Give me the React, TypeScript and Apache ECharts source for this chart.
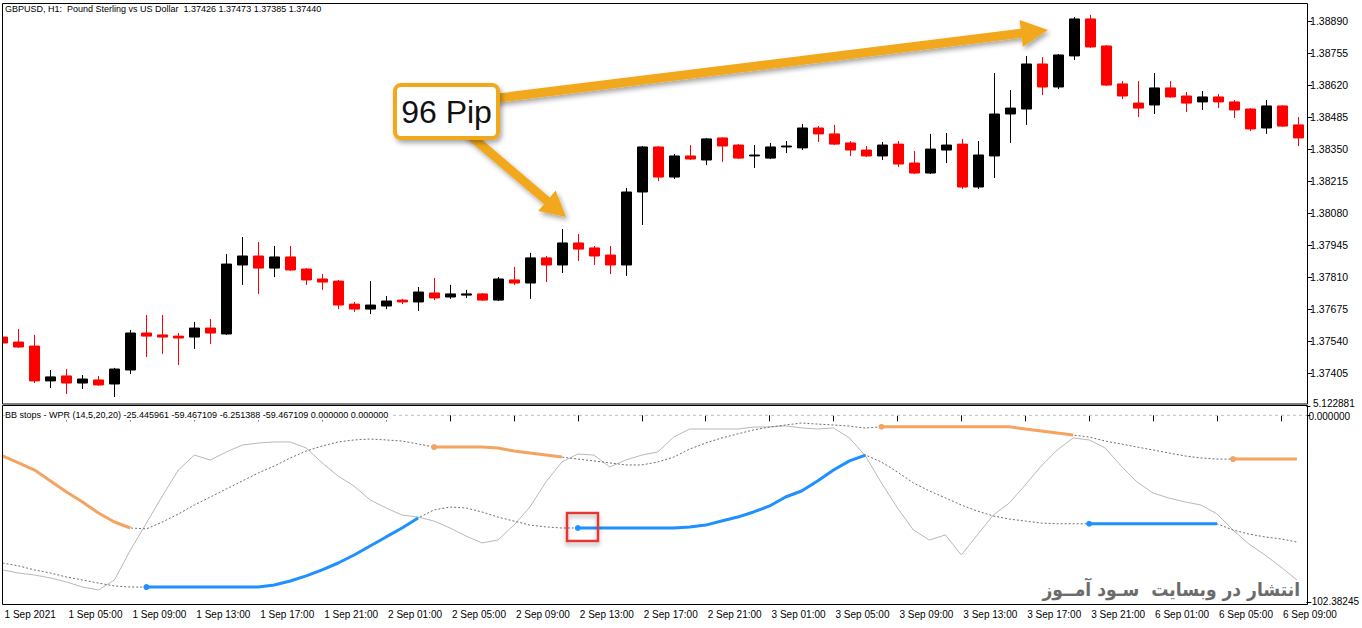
import React, { useEffect, useRef } from "react";
import * as echarts from "echarts";

// ---------- categories (H1 bars) ----------
const sessionDays: [string, number, number][] = [
  ["1 Sep", 1, 23],
  ["2 Sep", 0, 23],
  ["3 Sep", 0, 23],
  ["6 Sep", 0, 10],
];
const categories: string[] = [];
sessionDays.forEach(([d, a, b]) => {
  for (let h = a; h <= b; h++) categories.push(`${d} ${String(h).padStart(2, "0")}:00`);
});

const xTickLabels = [
  "1 Sep 2021", "1 Sep 05:00", "1 Sep 09:00", "1 Sep 13:00", "1 Sep 17:00", "1 Sep 21:00",
  "2 Sep 01:00", "2 Sep 05:00", "2 Sep 09:00", "2 Sep 13:00", "2 Sep 17:00", "2 Sep 21:00",
  "3 Sep 01:00", "3 Sep 05:00", "3 Sep 09:00", "3 Sep 13:00", "3 Sep 17:00", "3 Sep 21:00",
  "6 Sep 01:00", "6 Sep 05:00", "6 Sep 09:00",
];

// ---------- OHLC ----------
const opens = [
  1.37557, 1.37536, 1.37519, 1.37372, 1.37393, 1.37363, 1.37376, 1.37359, 1.37418, 1.37574,
  1.37566, 1.37561, 1.37557, 1.37595, 1.37570, 1.37861, 1.37899, 1.37848, 1.37895, 1.37844,
  1.37802, 1.37793, 1.37696, 1.37675, 1.37688, 1.37713, 1.37705, 1.37743, 1.37726, 1.37734,
  1.37739, 1.37713, 1.37798, 1.37785, 1.37891, 1.37861, 1.37954, 1.37933, 1.37903, 1.37861,
  1.38169, 1.38359, 1.38232, 1.38321, 1.38304, 1.38397, 1.38367, 1.38321, 1.38312, 1.38359,
  1.38355, 1.38439, 1.38414, 1.38376, 1.38346, 1.38321, 1.38371, 1.38291, 1.38249, 1.38346,
  1.38371, 1.38190, 1.38321, 1.38498, 1.38519, 1.38709, 1.38612, 1.38743, 1.38899, 1.38785,
  1.38625, 1.38544, 1.38536, 1.38608, 1.38574, 1.38549, 1.38570, 1.38549, 1.38519, 1.38439,
  1.38532, 1.38452,
];
const closes = [
  1.37532, 1.37515, 1.37372, 1.37389, 1.37363, 1.37380, 1.37355, 1.37422, 1.37574, 1.37561,
  1.37557, 1.37553, 1.37595, 1.37574, 1.37865, 1.37899, 1.37848, 1.37895, 1.37840, 1.37798,
  1.37789, 1.37692, 1.37675, 1.37692, 1.37709, 1.37705, 1.37747, 1.37722, 1.37739, 1.37739,
  1.37713, 1.37802, 1.37785, 1.37891, 1.37861, 1.37954, 1.37928, 1.37899, 1.37861, 1.38169,
  1.38359, 1.38232, 1.38321, 1.38308, 1.38393, 1.38363, 1.38312, 1.38325, 1.38359, 1.38363,
  1.38439, 1.38414, 1.38371, 1.38346, 1.38321, 1.38367, 1.38287, 1.38249, 1.38350, 1.38367,
  1.38190, 1.38325, 1.38498, 1.38523, 1.38709, 1.38612, 1.38747, 1.38899, 1.38781, 1.38620,
  1.38574, 1.38523, 1.38608, 1.38570, 1.38544, 1.38570, 1.38549, 1.38515, 1.38435, 1.38532,
  1.38447, 1.38397,
];
const lows = [
  1.37528, 1.37511, 1.37363, 1.37342, 1.37317, 1.37338, 1.37351, 1.37304, 1.37401, 1.37473,
  1.37486, 1.37439, 1.37507, 1.37528, 1.37566, 1.37777, 1.37739, 1.37810, 1.37836, 1.37777,
  1.37756, 1.37675, 1.37663, 1.37654, 1.37675, 1.37696, 1.37667, 1.37713, 1.37718, 1.37722,
  1.37709, 1.37709, 1.37777, 1.37718, 1.37789, 1.37827, 1.37878, 1.37861, 1.37823, 1.37815,
  1.38030, 1.38215, 1.38224, 1.38304, 1.38283, 1.38296, 1.38308, 1.38270, 1.38308, 1.38333,
  1.38346, 1.38380, 1.38367, 1.38321, 1.38317, 1.38304, 1.38274, 1.38245, 1.38245, 1.38291,
  1.38182, 1.38182, 1.38228, 1.38376, 1.38452, 1.38578, 1.38603, 1.38726, 1.38777, 1.38616,
  1.38561, 1.38485, 1.38498, 1.38566, 1.38506, 1.38515, 1.38523, 1.38481, 1.38426, 1.38414,
  1.38443, 1.38363,
];
const highs = [
  1.37566, 1.37591, 1.37566, 1.37418, 1.37422, 1.37397, 1.37393, 1.37427, 1.37587, 1.37650,
  1.37650, 1.37574, 1.37621, 1.37633, 1.37907, 1.37979, 1.37958, 1.37941, 1.37941, 1.37848,
  1.37823, 1.37798, 1.37705, 1.37793, 1.37730, 1.37718, 1.37768, 1.37806, 1.37777, 1.37756,
  1.37743, 1.37810, 1.37853, 1.37912, 1.37899, 1.38013, 1.37992, 1.37941, 1.37941, 1.38186,
  1.38363, 1.38363, 1.38329, 1.38367, 1.38397, 1.38401, 1.38371, 1.38367, 1.38376, 1.38384,
  1.38456, 1.38447, 1.38452, 1.38384, 1.38363, 1.38380, 1.38384, 1.38342, 1.38414, 1.38418,
  1.38393, 1.38384, 1.38671, 1.38599, 1.38743, 1.38738, 1.38751, 1.38907, 1.38916, 1.38789,
  1.38637, 1.38637, 1.38671, 1.38637, 1.38591, 1.38595, 1.38582, 1.38557, 1.38523, 1.38557,
  1.38536, 1.38485,
];
const priceTicks = [
  1.37405, 1.3754, 1.37675, 1.3781, 1.37945, 1.3808, 1.38215, 1.3835, 1.38485, 1.3862, 1.38755, 1.3889,
];

// ---------- BB stops - WPR ----------
const wpr = [
  -84.8, -86.5, -87.6, -89.2, -91.4, -94.2, -95.8, -90.3, -73.9, -59.1,
  -44.2, -30.0, -21.8, -24.5, -20.1, -16.3, -15.2, -14.6, -14.6, -17.9,
  -26.1, -33.3, -38.8, -46.4, -50.8, -54.7, -55.8, -58.0, -61.8, -66.2,
  -70.0, -68.4, -60.2, -50.3, -36.6, -25.6, -21.2, -21.8, -28.3, -24.5,
  -21.8, -20.1, -11.9, -7.5, -7.5, -7.5, -7.5, -6.4, -6.4, -5.8,
  -6.9, -7.5, -6.9, -12.4, -22.3, -37.1, -50.8, -62.9, -68.4, -65.6,
  -76.6, -65.6, -54.7, -48.1, -38.2, -27.8, -19.0, -12.4, -13.5, -17.9,
  -27.8, -36.6, -42.6, -45.4, -47.5, -49.2, -54.1, -62.9, -70.6, -76.6,
  -83.2, -90.3,
];
const upperBand = [
  -22.3, -26.1, -30.0, -36.0, -42.1, -47.5, -53.6, -58.5, -61.8, -62.3,
  -58.5, -54.1, -49.2, -44.8, -40.4, -36.0, -31.6, -27.8, -23.4, -19.6,
  -16.8, -14.6, -13.5, -13.0, -13.5, -14.1, -15.7, -17.4, -17.4, -17.4,
  -17.4, -17.9, -19.6, -20.7, -21.8, -22.9, -24.0, -25.0, -26.1, -27.2,
  -27.2, -25.6, -22.9, -18.5, -15.2, -12.4, -10.2, -8.0, -6.4, -5.3,
  -4.2, -4.8, -5.3, -5.9, -7.0, -6.25, -6.25, -6.25, -6.25, -6.25,
  -6.25, -6.25, -6.25, -6.25, -7.5, -8.6, -9.7, -10.8, -11.9, -14.1,
  -15.7, -17.4, -19.0, -20.7, -22.3, -23.4, -24.0, -24.0, -24.0, -24.0,
  -24.0, -24.0,
];
const lowerBand = [
  -81.0, -82.6, -84.8, -86.5, -88.7, -90.3, -92.0, -93.6, -94.2, -94.2,
  -94.2, -94.2, -94.2, -94.2, -94.2, -94.2, -94.2, -93.1, -90.9, -88.1,
  -84.8, -81.0, -76.6, -71.7, -66.7, -61.8, -56.3, -51.9, -50.3, -50.8,
  -53.0, -55.8, -58.0, -60.2, -61.2, -61.8, -61.8, -61.8, -61.8, -61.8,
  -61.8, -61.8, -61.8, -61.2, -60.2, -58.0, -55.8, -53.0, -49.7, -44.8,
  -41.5, -36.0, -30.0, -25.0, -21.8, -25.6, -31.1, -37.1, -41.5, -45.3,
  -49.2, -52.5, -55.2, -56.9, -58.0, -59.1, -59.47, -59.47, -59.47, -59.47,
  -59.47, -59.47, -59.47, -59.47, -59.47, -59.47, -59.47, -62.9, -65.1, -66.7,
  -67.8, -69.5,
];
const upperActiveRanges: [number, number][] = [[0, 8], [27, 35], [55, 67], [77, 81]];
const lowerActiveRanges: [number, number][] = [[9, 26], [36, 54], [68, 76]];
const wprTicks = [5.122881, 0, -102.38245];
const wprTickLabels = ["5.122881", "0.000000", "-102.38245"];

const FONT = "Liberation Sans";

function activeData(band: number[], ranges: [number, number][]) {
  return band.map((v, i) => {
    const r = ranges.find(([a, b]) => i >= a && i <= b);
    if (!r) return null;
    if (i === r[0] && r[0] > 0) return { value: v, symbol: "circle", symbolSize: 6 };
    return v;
  });
}

function arrowPts(x1: number, y1: number, x2: number, y2: number, sw: number, hw: number, hl: number) {
  const dx = x2 - x1, dy = y2 - y1, L = Math.hypot(dx, dy);
  const ux = dx / L, uy = dy / L, px = -uy, py = ux;
  const bx = x2 - ux * hl, by = y2 - uy * hl;
  return [
    [x1 + (px * sw) / 2, y1 + (py * sw) / 2],
    [bx + (px * sw) / 2, by + (py * sw) / 2],
    [bx + (px * hw) / 2, by + (py * hw) / 2],
    [x2, y2],
    [bx - (px * hw) / 2, by - (py * hw) / 2],
    [bx - (px * sw) / 2, by - (py * sw) / 2],
    [x1 - (px * sw) / 2, y1 - (py * sw) / 2],
  ];
}

export default function App() {
  const ref = useRef<HTMLDivElement>(null);
  useEffect(() => {
    document.body.style.margin = "0";
    if (!ref.current) return;
    const chart = echarts.init(ref.current, undefined, { renderer: "svg" });
    const ohlc = opens.map((o, i) => [o, closes[i], lows[i], highs[i]]);
    const arrowColor = "#F2A81D";
    const shadow = { shadowBlur: 5, shadowColor: "rgba(0,0,0,0.35)", shadowOffsetX: 2, shadowOffsetY: 3 };
    const labelInterval = (index: number) => index % 4 === 0;
    const gridLeft = 2.6;
    const gridRight = 1362 - 1298.6;
    const lowerAxisLabels = wprTicks.slice(1);

    chart.setOption({
      animation: false,
      backgroundColor: "#ffffff",
      grid: [
        { left: gridLeft, right: gridRight, top: 3, height: 401 },
        { left: gridLeft, right: gridRight, top: 406, height: 199 },
      ],
      xAxis: [
        {
          type: "category", gridIndex: 0, data: categories, boundaryGap: false,
          axisLine: { show: false }, axisTick: { show: false }, axisLabel: { show: false }, splitLine: { show: false },
        },
        {
          type: "category", gridIndex: 1, data: categories, boundaryGap: false,
          axisLine: { show: false },
          axisTick: { show: true, interval: labelInterval, length: 6, lineStyle: { color: "#000" } },
          axisLabel: {
            interval: labelInterval, align: "left", margin: 4, padding: [0, 0, 0, 2],
            color: "#000", fontFamily: FONT, fontSize: 10, hideOverlap: false,
            formatter: (_v: string, idx: number) => xTickLabels[idx / 4] ?? "",
          },
          splitLine: { show: false },
        },
      ],
      yAxis: [
        {
          type: "value", gridIndex: 0, position: "right", offset: 9.5, min: 1.372746, max: 1.389663,
          axisLine: { show: false }, splitLine: { show: false },
          axisTick: { show: true, customValues: priceTicks, length: 4, lineStyle: { color: "#000" } },
          axisLabel: {
            customValues: priceTicks, margin: 2, color: "#000", fontFamily: FONT, fontSize: 10.5,
            hideOverlap: false, formatter: (v: number) => v.toFixed(5),
          },
        },
        {
          type: "value", gridIndex: 1, position: "right", offset: 9.5, min: -104.04, max: 5.122881,
          axisLine: { show: false }, splitLine: { show: false },
          axisTick: { show: true, customValues: wprTicks, length: 4, lineStyle: { color: "#000" } },
          axisLabel: {
            customValues: lowerAxisLabels, margin: 2, color: "#000", fontFamily: FONT, fontSize: 10,
            hideOverlap: false, showMaxLabel: true, showMinLabel: true,
            formatter: (v: number) => {
              let k = 0, best = Infinity;
              wprTicks.forEach((t, j) => { if (Math.abs(t - v) < best) { best = Math.abs(t - v); k = j; } });
              return k === 1 ? `{z|${wprTickLabels[k]}}` : wprTickLabels[k];
            },
            rich: { z: { padding: [3, 0, 0, 0], fontFamily: FONT, fontSize: 10, color: "#000" } },
          },
        },
      ],
      series: [
        {
          type: "candlestick", xAxisIndex: 0, yAxisIndex: 0, data: ohlc, barWidth: 11, clip: false,
          itemStyle: { color: "#000000", color0: "#ff0000", borderColor: "#000000", borderColor0: "#ff0000", borderWidth: 1 },
        },
        {
          type: "line", xAxisIndex: 1, yAxisIndex: 1, data: wpr, symbol: "none", z: 2,
          lineStyle: { color: "#b8b8b8", width: 1 },
        },
        {
          type: "line", xAxisIndex: 1, yAxisIndex: 1, data: upperBand, symbol: "none", z: 3,
          lineStyle: { color: "#6e6e6e", width: 1, type: [2, 2] },
        },
        {
          type: "line", xAxisIndex: 1, yAxisIndex: 1, data: lowerBand, symbol: "none", z: 3,
          lineStyle: { color: "#6e6e6e", width: 1, type: [2, 2] },
        },
        {
          type: "line", xAxisIndex: 1, yAxisIndex: 1, data: activeData(upperBand, upperActiveRanges),
          symbol: "none", showSymbol: true, z: 4, itemStyle: { color: "#F4A460" },
          lineStyle: { color: "#F4A460", width: 3 },
        },
        {
          type: "line", xAxisIndex: 1, yAxisIndex: 1, data: activeData(lowerBand, lowerActiveRanges),
          symbol: "none", showSymbol: true, z: 4, itemStyle: { color: "#1E90FF" },
          lineStyle: { color: "#1E90FF", width: 3 },
        },
      ],
      graphic: [
        { type: "rect", z: 40, shape: { x: 0, y: 0, width: 2, height: 610 }, style: { fill: "#ffffff" } },
        { type: "rect", z: 45, shape: { x: 2.5, y: 3.5, width: 1305, height: 400.5 }, style: { fill: "none", stroke: "#000", lineWidth: 1 } },
        { type: "rect", z: 45, shape: { x: 2.5, y: 405.5, width: 1305, height: 199 }, style: { fill: "none", stroke: "#000", lineWidth: 1 } },
        {
          type: "text", z: 46, x: 5, y: 9,
          style: { text: "GBPUSD, H1:  Pound Sterling vs US Dollar  1.37426 1.37473 1.37385 1.37440", fill: "#000", fontFamily: FONT, fontSize: 9, verticalAlign: "middle" },
        },
        {
          type: "text", z: 46, x: 5, y: 415,
          style: { text: "BB stops - WPR (14,5,20,20) -25.445961 -59.467109 -6.251388 -59.467109 0.000000 0.000000", fill: "#000", fontFamily: FONT, fontSize: 9, verticalAlign: "middle", backgroundColor: "#ffffff", padding: [1, 4, 1, 0] },
        },
        { type: "polygon", z: 50, shape: { points: arrowPts(490, 99, 1048, 30, 9, 27, 27) }, style: { fill: arrowColor, ...shadow } },
        { type: "polygon", z: 50, shape: { points: arrowPts(466, 132, 566, 217, 9, 27, 25) }, style: { fill: arrowColor, ...shadow } },
        {
          type: "rect", z: 51, shape: { x: 395, y: 85, width: 103, height: 53, r: 6 },
          style: { fill: "#ffffff", stroke: arrowColor, lineWidth: 4, ...shadow },
        },
        {
          type: "text", z: 52, x: 446.5, y: 111.5,
          style: { text: "96 Pip", fill: "#111", fontFamily: FONT, fontSize: 32, align: "center", verticalAlign: "middle" },
        },
        {
          type: "rect", z: 52, shape: { x: 567, y: 513, width: 31, height: 28 },
          style: { fill: "none", stroke: "#E53935", lineWidth: 2.5, shadowBlur: 4, shadowColor: "rgba(0,0,0,0.3)", shadowOffsetY: 3 },
        },
        {
          type: "text", z: 52, x: 1300, y: 589,
          style: { text: "انتشار در وبسایت  سـود آمــوز", fill: "#6b6b6b", fontFamily: '"DejaVu Sans Condensed", "DejaVu Sans"', fontWeight: "bold", fontSize: 19, align: "right", verticalAlign: "middle" },
        },
      ],
    });

    // zero level of the WPR panel and its top value label, placed through the panel's own y scale
    const y0 = chart.convertToPixel({ yAxisIndex: 1 }, 0) as number;
    const yTop = chart.convertToPixel({ yAxisIndex: 1 }, wprTicks[0]) as number;
    chart.setOption({
      graphic: {
        elements: [
          { id: "zeroLevel", type: "line", z: 44, shape: { x1: 3, y1: y0, x2: 1307, y2: y0 }, style: { stroke: "#bdbdbd", lineWidth: 1, lineDash: [3, 3] } },
          { id: "topLabel", type: "text", z: 46, x: 1313, y: yTop - 2.5, style: { text: wprTickLabels[0], fill: "#000", fontFamily: FONT, fontSize: 10, verticalAlign: "middle" } },
        ],
      },
    });
    return () => chart.dispose();
  }, []);
  return <div ref={ref} style={{ width: 1362, height: 628 }} />;
}
